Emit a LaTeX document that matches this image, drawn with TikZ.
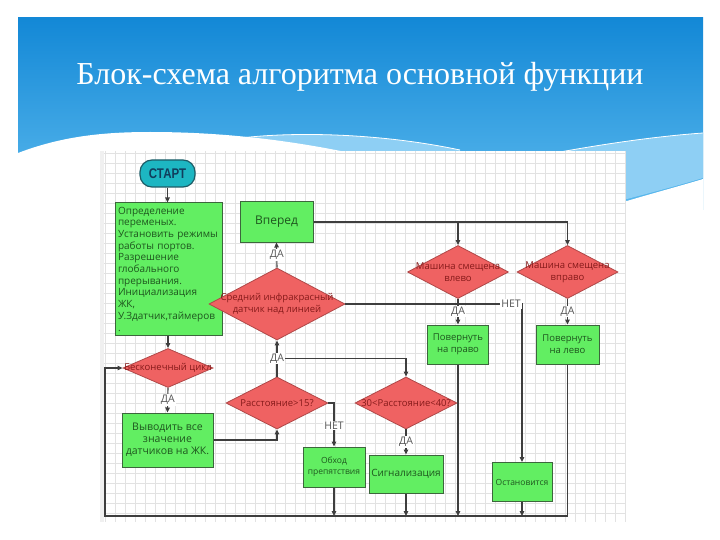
\documentclass[tikz,border=0pt]{standalone}
\usepackage{fontspec}
\setmainfont{Liberation Serif}
\newfontfamily\dg{Open Sans}
\newfontfamily\dgb{Liberation Sans}
\usetikzlibrary{shapes.geometric,arrows.meta,calc}
\definecolor{bannerTop}{HTML}{1388D6}
\definecolor{bannerBot}{HTML}{5CBAEE}
\definecolor{bannerLight}{HTML}{8ECFF4}
\definecolor{gridc}{HTML}{E2E2E2}
\definecolor{boxfill}{HTML}{62EE62}
\definecolor{boxline}{HTML}{3C663C}
\definecolor{boxtext}{HTML}{1E561E}
\definecolor{diafill}{HTML}{EF6262}
\definecolor{dialine}{HTML}{B04848}
\definecolor{diatext}{HTML}{861A1A}
\definecolor{startfill}{HTML}{1DB6C2}
\definecolor{startline}{HTML}{1D5C66}
\definecolor{starttext}{HTML}{113D5C}
\definecolor{conn}{HTML}{3E3E3E}
\definecolor{lbltext}{HTML}{555555}
\begin{document}
\begin{tikzpicture}[x=1pt,y=-1pt,
  startbox/.style={draw=startline, fill=startfill, line width=1.2pt, rounded corners=12pt,
    minimum width=55pt, minimum height=27pt, inner sep=0pt, text=starttext,
    font=\dgb\bfseries\fontsize{14}{14}\selectfont},
  box/.style={draw=boxline, fill=boxfill, line width=1pt, inner sep=0pt, text=boxtext, align=center},
  dia/.style={diamond, draw=dialine, fill=diafill, line width=0.8pt, inner sep=0pt},
  diatxt/.style={text=diatext, align=center, inner sep=0pt, font=\dg\fontsize{9.5}{11.5}\selectfont},
  conn/.style={draw=conn, line width=1.1pt},
  arr/.style={conn, -{Triangle[length=5pt,width=4.5pt]}},
  lbl/.style={fill=white, inner sep=1pt, text=lbltext, font=\dg\fontsize{10.5}{12}\selectfont}
]
\useasboundingbox (0,0) rectangle (720,540);
\fill[white] (0,0) rectangle (720,540);
% banner
\shade[top color=bannerTop, bottom color=bannerBot] (18,18) rectangle (703,210);
\fill[bannerLight] (233,139) .. controls (290,131) and (380,133) .. (460,150) -- (460,160) -- (233,160) -- cycle;
\fill[bannerLight] (560,152) .. controls (610,143) and (660,136) .. (703,133) -- (703,178) .. controls (680,185) and (650,193) .. (627,199) -- (560,199) -- cycle;
\fill[white] (18,153) .. controls (60,137) and (100,132) .. (150,132) .. controls (230,132) and (300,142) .. (360,155) -- (627,201) .. controls (650,194) and (680,186) .. (703,179) -- (703,540) -- (18,540) -- cycle;
\draw[white, line width=0.8pt] (233,139) .. controls (290,131) and (380,133) .. (460,150);
\draw[white, line width=0.8pt] (560,152) .. controls (610,143) and (660,136) .. (703,133);
\node[text=white, font=\fontsize{32}{32}\selectfont, inner sep=0pt] (title) at (360,77) {Блок-схема алгоритма основной функции};
% diagram canvas
\fill[white] (100,151) rectangle (626,522);
\fill[black!6] (100,151) rectangle (104,522);
\foreach \x in {105,115,...,625} \draw[gridc, line width=0.5pt] (\x,151) -- (\x,522);
\foreach \y in {153,163,...,521} \draw[gridc, line width=0.5pt] (104,\y) -- (626,\y);
% nodes
\node[startbox] (start) at (167.5,173.5) {\scalebox{0.82}[1]{СТАРТ}};
\node[box, minimum width=107pt, minimum height=132pt, text width=101pt, align=left,
  font=\dg\fontsize{10}{11.7}\selectfont] (init) at (168.5,269)
  {Определение\\переменых.\\Установить режимы\\работы портов.\\Разрешение\\глобального\\прерывания.\\Инициализация\\ЖК,\\У.Здатчик,таймеров\\.};
\node[box, minimum width=73pt, minimum height=40pt, font=\dg\fontsize{12}{14}\selectfont] (fwd) at (276.5,222) {Вперед};
\node[dia, minimum width=136pt, minimum height=72pt, label={[diatxt]center:{Средний инфракрасный\\датчик над линией}}] (mid) at (277,304) {};
\node[dia, minimum width=101pt, minimum height=53pt, label={[diatxt]center:{Машина смещена\\влево}}] (dl) at (458,272) {};
\node[dia, minimum width=101pt, minimum height=53pt, label={[diatxt]center:{Машина смещена\\вправо}}] (dr) at (567.5,272) {};
\node[box, minimum width=61pt, minimum height=39pt, font=\dg\fontsize{9.5}{12}\selectfont] (pr) at (458,344.5) {Повернуть\\на право};
\node[box, minimum width=63pt, minimum height=39pt, font=\dg\fontsize{9.5}{12}\selectfont] (plv) at (567.5,344.5) {Повернуть\\на лево};
\node[dia, minimum width=90pt, minimum height=39pt, label={[diatxt]center:{Бесконечный цикл}}] (inf) at (168,368) {};
\node[box, minimum width=91pt, minimum height=54pt, font=\dg\fontsize{10.5}{12}\selectfont] (out) at (167.5,440) {Выводить все\\значение\\датчиков на ЖК.};
\node[dia, minimum width=102pt, minimum height=52pt, label={[diatxt]center:{Расстояние>15?}}] (d15) at (277,403) {};
\node[dia, minimum width=102pt, minimum height=52pt, label={[diatxt]center:{30<Расстояние<40?}}] (d30) at (406,403) {};
\node[box, minimum width=62pt, minimum height=40pt, font=\dg\fontsize{8.5}{10.5}\selectfont] (obh) at (334,467) {Обход\\препятствия};
\node[box, minimum width=74pt, minimum height=38pt, font=\dg\fontsize{10}{12}\selectfont] (sig) at (406,474) {Сигнализация};
\node[box, minimum width=60pt, minimum height=39pt, font=\dg\fontsize{8.5}{10.5}\selectfont] (stop) at (522,482) {Остановится};
\coordinate (bl) at (105,516);
\coordinate (j1) at ($(d15.north)!0.5!(mid.south)$);
% connectors
\draw[arr] (start) -- (start |- init.north);
\draw[arr] (init.south -| inf.north) -- (inf.north);
\draw[arr] (plv.south) |- (bl) |- (inf.west);
\draw[arr] (inf.south) -- (out.north) node[lbl, midway] (da1) {ДА};
\draw[arr] (out.east) -| (d15.south);
\draw[arr] (j1) -| (d30.north);
\draw[arr] (d15.north) -- (mid.south) node[lbl, midway] (da2) {ДА};
\draw[arr] (mid.north) -- (fwd.south) node[lbl, midway] (da3) {ДА};
\draw[arr] (fwd.east) -| (dr.north);
\draw[arr] (dl.north |- fwd.east) -- (dl.north);
\draw[arr] (mid.east) -| (stop.north);
\draw[arr] (dl.south) -- (pr.north) node[lbl, midway] (da4) {ДА};
\draw[arr] (dr.south) -- (plv.north) node[lbl, midway] (da5) {ДА};
\node[lbl] (net1) at ($(mid.east -| stop.north)+(-11,0)$) {НЕТ};
\draw[arr] (d15.east) -| (obh.north) node[lbl, pos=0.76] (net2) {НЕТ};
\draw[arr] (d30.south) -- (sig.north) node[lbl, midway] (da6) {ДА};
\draw[arr] (obh.south) -- (obh.south |- bl);
\draw[arr] (sig.south) -- (sig.south |- bl);
\draw[arr] (pr.south) -- (pr.south |- bl);
\draw[arr] (stop.south) -- (stop.south |- bl);
\end{tikzpicture}
\end{document}
